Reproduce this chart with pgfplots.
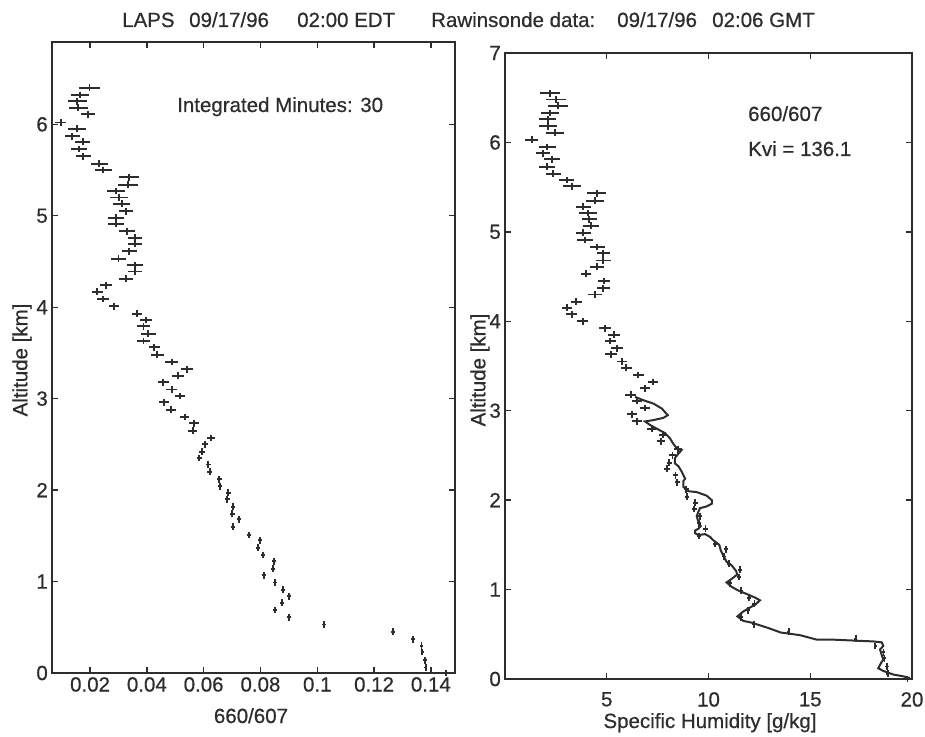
\documentclass[border=0pt]{standalone}
\usepackage{pgfplots}
\pgfplotsset{compat=1.18}
\usepackage{pgfplotstable}
\usepackage{fontspec}
\setmainfont{Liberation Sans}[UprightFeatures={FakeBold=0.6}]
\definecolor{ink}{RGB}{45,45,45}
\newcommand{\fs}{\fontsize{20.5}{24}\selectfont}

\pgfplotstableread{
y x ex
6.40 0.0198 0.0037
6.32 0.0165 0.0032
6.25 0.0155 0.0033
6.18 0.0159 0.0033
6.11 0.0194 0.0025
6.02 0.0097 0.0019
5.95 0.0155 0.0031
5.87 0.0138 0.0025
5.81 0.0174 0.0026
5.73 0.0162 0.0028
5.65 0.0176 0.0026
5.57 0.0233 0.0029
5.50 0.0247 0.0029
5.42 0.0338 0.0035
5.34 0.0335 0.0035
5.27 0.0292 0.0032
5.20 0.0303 0.0032
5.13 0.0311 0.0029
5.05 0.0327 0.0024
4.98 0.0292 0.0029
4.91 0.0292 0.0029
4.83 0.0331 0.0029
4.76 0.0358 0.0026
4.69 0.0358 0.0026
4.61 0.0338 0.0026
4.53 0.0300 0.0025
4.46 0.0358 0.0027
4.39 0.0358 0.0025
4.31 0.0327 0.0024
4.24 0.0256 0.0021
4.17 0.0226 0.0019
4.09 0.0245 0.0021
4.01 0.0284 0.0019
3.93 0.0364 0.0018
3.86 0.0397 0.0022
3.79 0.0388 0.0024
3.71 0.0405 0.0026
3.63 0.0388 0.0022
3.56 0.0426 0.0019
3.48 0.0437 0.0022
3.40 0.0487 0.0022
3.32 0.0540 0.0021
3.25 0.0511 0.0021
3.18 0.0458 0.0019
3.10 0.0487 0.0020
3.03 0.0517 0.0018
2.96 0.0460 0.0018
2.88 0.0485 0.0018
2.80 0.0534 0.0016
2.73 0.0566 0.0018
2.65 0.0561 0.0016
2.57 0.0625 0.0015
2.50 0.0605 0.0012
2.42 0.0593 0.0010
2.35 0.0585 0.0010
2.28 0.0616 0.0009
2.20 0.0622 0.0009
2.12 0.0655 0.0008
2.04 0.0657 0.0008
1.97 0.0687 0.0008
1.90 0.0683 0.0008
1.82 0.0704 0.0008
1.74 0.0701 0.0008
1.68 0.0724 0.0008
1.60 0.0702 0.0007
1.51 0.0759 0.0007
1.45 0.0798 0.0007
1.37 0.0790 0.0007
1.29 0.0810 0.0007
1.22 0.0848 0.0007
1.14 0.0845 0.0007
1.07 0.0813 0.0007
0.99 0.0851 0.0007
0.91 0.0880 0.0007
0.84 0.0901 0.0007
0.77 0.0877 0.0007
0.69 0.0851 0.0007
0.61 0.0900 0.0007
0.53 0.1024 0.0006
0.45 0.1267 0.0006
0.37 0.1337 0.0006
0.30 0.1367 0.0006
0.23 0.1370 0.0006
0.14 0.1379 0.0006
0.06 0.1382 0.0006
0.00 0.1453 0.0020
}\lefttab

\pgfplotstableread{
y x ex
6.55 2.21 0.49
6.48 2.51 0.49
6.41 2.62 0.49
6.33 2.21 0.45
6.26 2.10 0.43
6.18 2.13 0.44
6.11 2.46 0.45
6.03 1.31 0.33
5.95 2.08 0.41
5.88 1.85 0.34
5.81 2.29 0.39
5.73 2.08 0.39
5.65 2.37 0.37
5.58 3.03 0.38
5.51 3.28 0.43
5.43 4.51 0.47
5.35 4.42 0.46
5.28 3.85 0.38
5.21 4.09 0.43
5.14 4.14 0.37
5.07 4.21 0.39
4.99 3.85 0.37
4.91 3.93 0.37
4.83 4.54 0.36
4.76 4.83 0.33
4.68 4.83 0.37
4.61 4.51 0.34
4.53 3.98 0.27
4.45 4.86 0.29
4.37 4.83 0.31
4.30 4.42 0.33
4.22 3.49 0.27
4.15 3.03 0.25
4.08 3.28 0.28
4.00 3.82 0.27
3.92 4.91 0.28
3.85 5.36 0.29
3.78 5.16 0.27
3.70 5.52 0.30
3.63 5.19 0.29
3.55 5.73 0.25
3.48 5.95 0.27
3.40 6.55 0.28
3.32 7.29 0.25
3.25 6.88 0.26
3.18 6.18 0.26
3.11 6.47 0.25
3.03 6.88 0.25
2.96 6.23 0.25
2.88 6.47 0.25
2.80 7.21 0.22
2.73 7.78 0.20
2.66 7.67 0.20
2.57 8.51 0.20
2.50 8.23 0.16
2.42 8.07 0.13
2.35 7.96 0.13
2.28 8.38 0.12
2.20 8.47 0.12
2.12 8.91 0.11
2.04 8.94 0.11
1.97 9.35 0.11
1.90 9.30 0.11
1.82 9.58 0.11
1.74 9.54 0.11
1.68 9.85 0.11
1.60 9.55 0.10
1.51 10.33 0.10
1.45 10.86 0.10
1.37 10.75 0.10
1.29 11.02 0.10
1.22 11.54 0.10
1.14 11.50 0.10
1.07 11.06 0.10
0.99 11.58 0.10
0.91 11.98 0.10
0.84 12.26 0.10
0.77 11.94 0.10
0.69 11.58 0.10
0.61 12.25 0.10
0.53 13.94 0.08
0.45 17.24 0.08
0.37 18.20 0.08
0.30 18.60 0.08
0.23 18.65 0.08
0.14 18.77 0.08
0.06 18.81 0.08
0.00 19.78 0.27
}\righttab

\pgfplotstableread{
x y
6.39 3.155
6.80 3.117
7.29 3.08
7.70 3.025
8.00 2.95
7.78 2.92
7.29 2.895
6.88 2.88
7.13 2.84
7.45 2.80
7.86 2.75
8.11 2.69
8.27 2.63
8.44 2.58
8.68 2.56
8.52 2.52
8.35 2.47
8.35 2.41
8.52 2.38
8.68 2.32
8.85 2.24
8.76 2.21
8.76 2.15
9.01 2.10
9.42 2.09
9.91 2.05
10.16 2.00
10.16 1.96
9.91 1.93
9.58 1.91
9.50 1.87
9.42 1.82
9.50 1.76
9.62 1.71
9.50 1.68
9.34 1.66
9.34 1.63
9.50 1.61
9.83 1.62
10.07 1.59
10.24 1.55
10.53 1.50
10.60 1.44
10.73 1.38
10.89 1.31
11.14 1.27
11.35 1.21
11.42 1.17
11.14 1.12
10.89 1.08
11.14 1.03
11.46 0.99
11.88 0.95
12.29 0.91
12.53 0.88
12.29 0.83
11.96 0.79
11.68 0.75
11.42 0.70
11.71 0.65
12.12 0.63
12.53 0.60
12.94 0.57
13.55 0.52
14.50 0.49
15.32 0.44
16.13 0.44
17.12 0.43
18.10 0.42
18.51 0.41
18.59 0.37
18.43 0.33
18.51 0.27
18.59 0.22
18.43 0.16
18.34 0.12
18.59 0.09
19.08 0.05
19.57 0.03
19.90 0.01
}\sonde

\pgfplotsset{myax/.style={
  scale only axis, anchor=south west, clip=false,
  axis line style={line width=1.8pt, ink},
  tick style={line width=1.4pt, ink},
  major tick length=6pt, tick align=inside,
  ticklabel style={font=\fs, text=ink},
  /pgf/number format/assume math mode=true,
  yticklabel style={inner sep=0pt, xshift=-4pt},
}}

\begin{document}
\begin{tikzpicture}
\useasboundingbox (0,0) rectangle (925pt,736pt);

\begin{axis}[myax, at={(52pt,63pt)}, width=403pt, height=631pt,
  xmin=0.0066, xmax=0.1485, ymin=0, ymax=6.9,
  xtick={0.02,0.04,0.06,0.08,0.1,0.12,0.14},
  xticklabels={0.02,0.04,0.06,0.08,0.1,0.12,0.14},
  ytick={0,1,2,3,4,5,6}, yticklabels={0,1,2,3,4,5,6},
  xticklabel style={inner sep=0pt, yshift=-4pt}]
\addplot[ink, only marks, mark=|, mark size=3.4pt, mark options={line width=1.9pt},
  error bars/.cd, x dir=both, x explicit, error mark=none,
  error bar style={line width=1.9pt, ink}]
  table[x=x, y=y, x error=ex] {\lefttab};
\end{axis}

\begin{axis}[myax, at={(505pt,57pt)}, width=407pt, height=626pt,
  xmin=0, xmax=20, ymin=0, ymax=7,
  xtick={5,10,15,20}, xticklabels={5,10,15,20},
  ytick={0,1,2,3,4,5,6,7}, yticklabels={0,1,2,3,4,5,6,7},
  xticklabel style={inner sep=0pt, yshift=-13pt}]
\addplot[ink, line width=2pt] table[x=x, y=y] {\sonde};
\addplot[ink, only marks, mark=|, mark size=3.4pt, mark options={line width=1.9pt},
  error bars/.cd, x dir=both, x explicit, error mark=none,
  error bar style={line width=1.9pt, ink}]
  table[x=x, y=y, x error=ex] {\righttab};
\end{axis}

\begin{scope}[every node/.style={font=\fs, text=ink, inner sep=0pt}]
\node[anchor=base west] at (122pt,709pt) {LAPS};
\node[anchor=base west] at (189pt,709pt) {09/17/96};
\node[anchor=base west] at (297pt,709pt) {02:00 EDT};
\node[anchor=base west] at (431pt,709pt) {Rawinsonde data:};
\node[anchor=base west] at (617pt,709pt) {09/17/96};
\node[anchor=base west] at (712pt,709pt) {02:06 GMT};
\node[anchor=base west] at (177pt,624pt) {Integrated Minutes: 30};
\node[anchor=base west] at (748pt,615pt) {660/607};
\node[anchor=base west] at (748pt,580pt) {Kvi = 136.1};
\node[anchor=base] at (251pt,13pt) {660/607};
\node[anchor=base] at (710pt,8pt) {Specific Humidity [g/kg]};
\node[rotate=90] at (22pt,376pt) {Altitude [km]};
\node[rotate=90] at (480pt,366pt) {Altitude [km]};
\end{scope}
\end{tikzpicture}
\end{document}
